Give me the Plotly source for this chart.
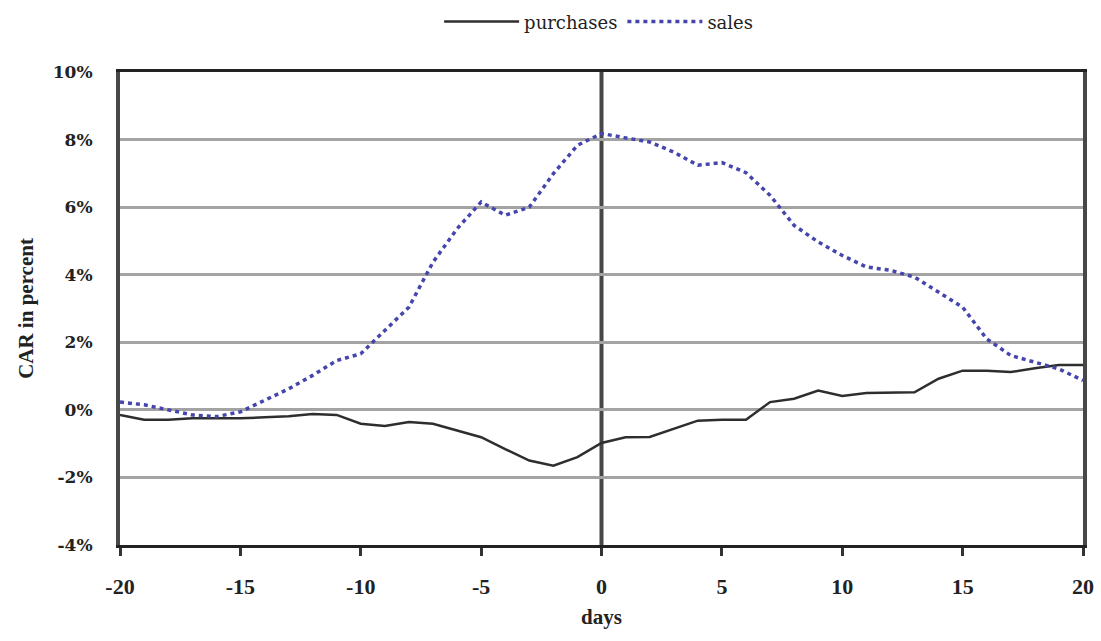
import plotly.graph_objects as go

# Event window (trading days relative to the event day)
days = list(range(-20, 21))

# Cumulative abnormal returns in percent
purchases = [-0.15, -0.29, -0.29, -0.25, -0.25, -0.25, -0.22, -0.19, -0.12, -0.15,
             -0.41, -0.48, -0.36, -0.41, -0.61, -0.81, -1.16, -1.50, -1.65, -1.40,
             -0.98, -0.81, -0.80, -0.56, -0.32, -0.29, -0.29, 0.23, 0.33, 0.57,
             0.41, 0.50, 0.52, 0.52, 0.92, 1.16, 1.16, 1.12, 1.23, 1.33, 1.33]
sales = [0.23, 0.15, 0.00, -0.15, -0.20, -0.06, 0.28, 0.62, 1.02, 1.46,
         1.66, 2.35, 3.04, 4.37, 5.36, 6.15, 5.76, 6.00, 6.99, 7.83,
         8.18, 8.05, 7.93, 7.63, 7.24, 7.32, 7.02, 6.35, 5.46, 4.97,
         4.57, 4.23, 4.13, 3.93, 3.49, 3.04, 2.10, 1.61, 1.41, 1.21, 0.87]

x_ticks = [-20, -15, -10, -5, 0, 5, 10, 15, 20]
x_labels = ["-20", "-15", "-10", "-5", "0", "5", "10", "15", "20"]
y_ticks = [-4, -2, 0, 2, 4, 6, 8, 10]
y_labels = ["-4%", "-2%", "0%", "2%", "4%", "6%", "8%", "10%"]

fig = go.Figure()
fig.add_trace(go.Scatter(
    x=days, y=purchases, name="purchases", mode="lines",
    line=dict(color="#2e2e2e", width=2.5),
))
fig.add_trace(go.Scatter(
    x=days, y=sales, name="sales", mode="lines",
    line=dict(color="#4545ad", width=3.5, dash="4px,4px"),
))

# event-day separator
fig.add_vline(x=0, line=dict(color="#474747", width=4), layer="below")

fig.update_layout(
    width=1101, height=641,
    margin=dict(l=120, r=18, t=72, b=96, autoexpand=False),
    paper_bgcolor="white", plot_bgcolor="white",
    showlegend=True,
    legend=dict(
        orientation="h", x=0.497, xanchor="center",
        yref="container", y=0.966, yanchor="middle",
        font=dict(family="DejaVu Serif", size=18, color="#222"),
        itemwidth=75, bgcolor="rgba(0,0,0,0)",
    ),
    xaxis=dict(
        range=[-20, 20], tickvals=x_ticks, ticktext=x_labels,
        showgrid=False, zeroline=False,
        showline=True, linecolor="#222", linewidth=2.5, mirror=True,
        ticks="outside", ticklen=8, tickwidth=3, tickcolor="#333",
        ticklabelstandoff=12,
        tickfont=dict(family="Liberation Serif", size=22, color="#222", weight="bold"),
        title=dict(text="days", standoff=12,
                   font=dict(family="Liberation Serif", size=21, color="#222", weight="bold")),
    ),
    yaxis=dict(
        range=[-4, 10], tickvals=y_ticks, ticktext=y_labels,
        showgrid=True, gridcolor="#a3a3a3", gridwidth=3, zeroline=False,
        showline=True, linecolor="#474747", linewidth=4, mirror=True,
        ticks="", ticklabelstandoff=20,
        tickfont=dict(family="DejaVu Serif", size=17, color="#222", weight="bold"),
        title=dict(text="CAR in percent", standoff=14,
                   font=dict(family="Liberation Serif", size=21, color="#222", weight="bold")),
    ),
)

fig.write_html("out.html")
